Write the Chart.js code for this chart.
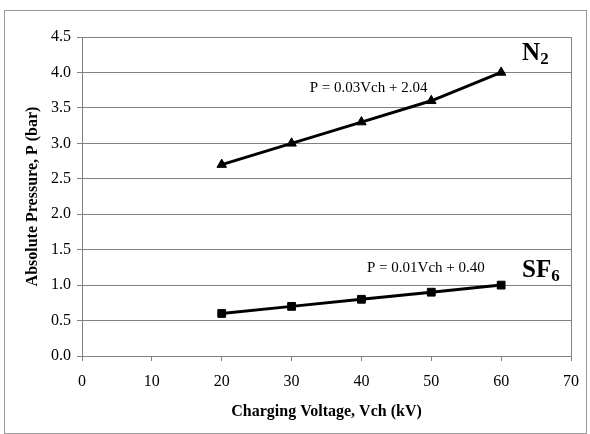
<!DOCTYPE html>
<html>
<head>
<meta charset="utf-8">
<script src="https://cdn.jsdelivr.net/npm/chart.js@4/dist/chart.umd.min.js"></script>
<style>
  html, body { margin: 0; padding: 0; background: #fff; }
  #wrap { width: 590px; height: 434px; }
</style>
</head>
<body>
<div id="wrap"><canvas id="chart1" width="590" height="434"></canvas></div>
<script>
// data
const voltages = [20, 30, 40, 50, 60];
const n2Pressure = [2.7, 3.0, 3.3, 3.6, 4.0];
const sf6Pressure = [0.6, 0.7, 0.8, 0.9, 1.0];
const n2Fit = 'P = 0.03Vch + 2.04';
const sf6Fit = 'P = 0.01Vch + 0.40';
const xTitle = 'Charging Voltage, Vch (kV)';
const yTitle = 'Absolute Pressure, P (bar)';

const serif = "'Liberation Serif', 'Times New Roman', serif";
const toPoints = (ys) => voltages.map((v, i) => ({ x: v, y: ys[i] }));

// frame, right border and the text labels on the plot
const extras = {
  id: 'extras',
  beforeDraw(chart) {
    const ctx = chart.ctx;
    ctx.save();
    ctx.strokeStyle = '#9a9a9a';
    ctx.lineWidth = 1;
    ctx.strokeRect(4.5, 10.5, 582, 423);
    ctx.restore();
  },
  afterDatasetsDraw(chart) {
    const { ctx, chartArea, scales: { x, y } } = chart;
    ctx.save();
    ctx.strokeStyle = '#808080';
    ctx.lineWidth = 1;
    ctx.beginPath();
    ctx.moveTo(Math.round(chartArea.right) + 0.5, chartArea.top);
    ctx.lineTo(Math.round(chartArea.right) + 0.5, chartArea.bottom);
    ctx.stroke();

    ctx.fillStyle = '#000';
    ctx.textBaseline = 'middle';
    ctx.textAlign = 'left';
    ctx.font = '15px ' + serif;
    ctx.fillText(n2Fit, x.getPixelForValue(32.6), y.getPixelForValue(3.78));
    ctx.fillText(sf6Fit, x.getPixelForValue(40.8), y.getPixelForValue(1.24));

    const gasLabel = (main, sub, vx, vy) => {
      const px = x.getPixelForValue(vx), py = y.getPixelForValue(vy);
      ctx.font = 'bold 25px ' + serif;
      ctx.fillText(main, px, py);
      const w = ctx.measureText(main).width;
      ctx.font = 'bold 17px ' + serif;
      ctx.fillText(sub, px + w, py + 6);
    };
    gasLabel('N', '2', 63.0, 4.27);
    gasLabel('SF', '6', 63.0, 1.21);
    ctx.restore();
  }
};

const ctx = document.getElementById('chart1').getContext('2d');
new Chart(ctx, {
  type: 'scatter',
  data: {
    datasets: [
      {
        label: 'N2',
        data: toPoints(n2Pressure),
        showLine: true,
        borderColor: '#000',
        backgroundColor: '#000',
        borderWidth: 3,
        pointStyle: 'triangle',
        pointRadius: 5.5,
        pointBorderWidth: 1
      },
      {
        label: 'SF6',
        data: toPoints(sf6Pressure),
        showLine: true,
        borderColor: '#000',
        backgroundColor: '#000',
        borderWidth: 3,
        pointStyle: 'rect',
        pointRadius: 5.5,
        pointBorderWidth: 1
      }
    ]
  },
  options: {
    responsive: false,
    animation: false,
    layout: { padding: { left: 0, top: 37, right: 17, bottom: 0 } },
    plugins: {
      legend: { display: false },
      tooltip: { enabled: false }
    },
    scales: {
      x: {
        type: 'linear',
        min: 0,
        max: 70,
        afterFit: (scale) => { scale.height = 78; },
        ticks: {
          stepSize: 10,
          color: '#000',
          padding: 11,
          font: { family: serif, size: 16 }
        },
        grid: { drawOnChartArea: false, drawTicks: true, tickLength: 5, color: '#808080' },
        border: { color: '#808080' },
        title: {
          display: true,
          text: xTitle,
          color: '#000',
          font: { family: serif, size: 16, weight: 'bold' },
          padding: { top: 13, bottom: 13 }
        }
      },
      y: {
        min: 0,
        max: 4.5,
        afterFit: (scale) => { scale.width = 82; },
        ticks: {
          stepSize: 0.5,
          color: '#000',
          padding: 6,
          font: { family: serif, size: 16 },
          callback: (v) => v.toFixed(1)
        },
        grid: { color: '#808080', tickLength: 5 },
        border: { color: '#808080' },
        title: {
          display: true,
          text: yTitle,
          color: '#000',
          font: { family: serif, size: 16, weight: 'bold' },
          padding: { top: 23, bottom: 0 }
        }
      }
    }
  },
  plugins: [extras]
});
</script>
</body>
</html>
